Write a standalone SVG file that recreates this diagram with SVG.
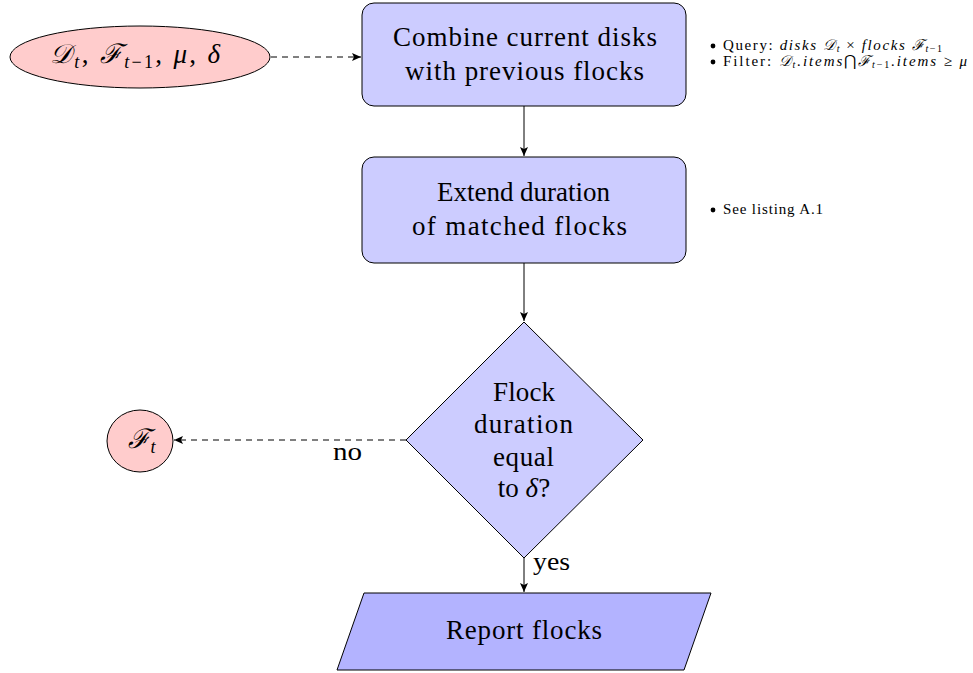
<svg xmlns="http://www.w3.org/2000/svg" width="973" height="673" viewBox="0 0 973 673">
<defs>
<marker id="ah" markerWidth="10" markerHeight="8" refX="9" refY="4" orient="auto" markerUnits="userSpaceOnUse">
<path d="M0,0 L9,4 L0,8 L2,4 Z" fill="#000"/>
</marker>
<style>
.box{fill:#ccccff;stroke:#000;stroke-width:1}
.io{fill:#ffcccc;stroke:#000;stroke-width:1}
.out{fill:#b3b3ff;stroke:#000;stroke-width:1}
.ln{stroke:#000;stroke-width:1;fill:none}
.dash{stroke-dasharray:6,5}
</style>
</defs>
<rect width="973" height="673" fill="#fff"/>
<g id="connectors">
<line class="ln dash" x1="271" y1="57" x2="361" y2="57" marker-end="url(#ah)"/>
<line class="ln" x1="524" y1="106" x2="524" y2="156" marker-end="url(#ah)"/>
<line class="ln" x1="524" y1="263" x2="524" y2="321" marker-end="url(#ah)"/>
<line class="ln dash" x1="406" y1="440" x2="174" y2="440" marker-end="url(#ah)"/>
<line class="ln" x1="524" y1="558" x2="524" y2="592" marker-end="url(#ah)"/>
<text font-family="Liberation Serif" x="333" y="460" font-size="25" textLength="29" lengthAdjust="spacingAndGlyphs">no</text>
<text font-family="Liberation Serif" x="533" y="570" font-size="25" textLength="37" lengthAdjust="spacingAndGlyphs">yes</text>
</g>
<g id="input">
<ellipse class="io" cx="140" cy="57" rx="130" ry="31"/>
<text font-family="Liberation Serif" font-size="27" x="50" y="63" textLength="170"><tspan font-style="italic">𝒟</tspan><tspan font-size="18" dy="5" font-style="italic">t</tspan><tspan dy="-5">, </tspan><tspan font-style="italic">ℱ</tspan><tspan font-size="18" dy="5"><tspan font-style="italic">t</tspan>−1</tspan><tspan dy="-5">, </tspan><tspan font-style="italic">μ</tspan>, <tspan font-style="italic">δ</tspan></text>
</g>
<g id="combine">
<rect class="box" x="362" y="3" width="324" height="103" rx="12"/>
<text font-family="Liberation Serif" font-size="27" x="393" y="46" textLength="264">Combine current disks</text>
<text font-family="Liberation Serif" font-size="27" x="405" y="80" textLength="239">with previous flocks</text>
</g>
<g id="note1">
<circle cx="713" cy="46" r="2.4" fill="#000"/>
<text font-family="Liberation Serif" font-size="15" x="723" y="50" textLength="219">Query: <tspan font-style="italic">disks</tspan> <tspan font-style="italic">𝒟</tspan><tspan font-style="italic" font-size="10" dy="2">t</tspan><tspan dy="-2"> × </tspan><tspan font-style="italic">flocks</tspan> <tspan font-style="italic">ℱ</tspan><tspan font-size="10" dy="2"><tspan font-style="italic">t</tspan>−1</tspan></text>
<circle cx="713" cy="62" r="2.4" fill="#000"/>
<text font-family="Liberation Serif" font-size="15" x="723" y="66" textLength="244">Filter: <tspan font-style="italic">𝒟</tspan><tspan font-style="italic" font-size="10" dy="2">t</tspan><tspan dy="-2" font-style="italic">.items</tspan><tspan>⋂</tspan><tspan font-style="italic">ℱ</tspan><tspan font-size="10" dy="2"><tspan font-style="italic">t</tspan>−1</tspan><tspan dy="-2" font-style="italic">.items</tspan> ≥ <tspan font-style="italic">μ</tspan></text>
</g>
<g id="extend">
<rect class="box" x="362" y="157" width="324" height="106" rx="12"/>
<text font-family="Liberation Serif" font-size="27" x="437" y="201" textLength="173">Extend duration</text>
<text font-family="Liberation Serif" font-size="27" x="412" y="235" textLength="215">of matched flocks</text>
</g>
<g id="note2">
<circle cx="713" cy="210" r="2.4" fill="#000"/>
<text font-family="Liberation Serif" font-size="15" x="723" y="214" textLength="100">See listing A.1</text>
</g>
<g id="decision">
<polygon class="box" points="524,322 643,440 524,558 406,440"/>
<text font-family="Liberation Serif" font-size="27" x="493" y="401" textLength="62">Flock</text>
<text font-family="Liberation Serif" font-size="27" x="474" y="433" textLength="99">duration</text>
<text font-family="Liberation Serif" font-size="27" x="493" y="466" textLength="61">equal</text>
<text font-family="Liberation Serif" font-size="27" text-anchor="middle" x="524" y="497">to <tspan font-style="italic">δ</tspan>?</text>
</g>
<g id="output">
<ellipse class="io" cx="140" cy="441" rx="33" ry="31"/>
<text font-family="Liberation Serif" font-size="27" text-anchor="middle" x="142" y="448"><tspan font-style="italic">ℱ</tspan><tspan font-style="italic" font-size="18" dy="5">t</tspan></text>
</g>
<g id="report">
<polygon class="out" points="364,593 711,593 684,670 337,670"/>
<text font-family="Liberation Serif" font-size="27" x="446" y="639" textLength="156">Report flocks</text>
</g>
</svg>
